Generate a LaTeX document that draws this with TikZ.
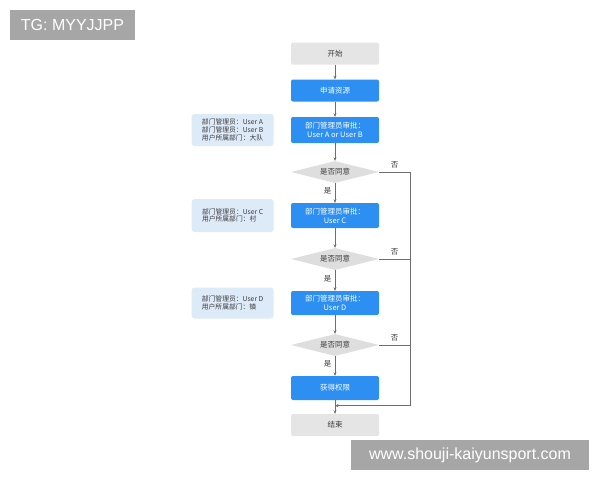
\documentclass[tikz,border=0pt]{standalone}
\usepackage{fontspec}
\setmainfont{Noto Sans CJK SC}
\newfontfamily\markfont{Liberation Sans}
\usetikzlibrary{positioning,shapes.geometric,arrows.meta}
\definecolor{flowblue}{RGB}{45,143,242}
\definecolor{infoblue}{RGB}{221,234,248}
\definecolor{boxgray}{RGB}{229,229,229}
\definecolor{diagray}{RGB}{222,222,222}
\definecolor{textgray}{RGB}{60,60,60}
\definecolor{linegray}{RGB}{110,110,110}
\definecolor{markgray}{RGB}{166,166,166}
\tikzset{
->,
>={Stealth[length=3.5pt,width=3pt]},
line width=0.6pt,
every node/.style={font=\fontsize{7.5}{9}\selectfont, text=textgray},
task/.style={rectangle, rounded corners=2pt, fill=flowblue, text=white, minimum width=88pt, minimum height=22pt, align=center},
terminal/.style={task, fill=boxgray, text=textgray},
decision/.style={diamond, aspect=4, fill=diagray, minimum width=88pt, minimum height=22pt, inner sep=1pt},
info/.style={rectangle, rounded corners=3pt, fill=infoblue, minimum width=82pt, minimum height=32pt, align=left, font=\fontsize{6.8}{7.6}\selectfont},
watermark/.style={rectangle, fill=markgray, text=white, inner sep=0pt, minimum height=30pt, font=\markfont\fontsize{16}{18}\selectfont},
}

\begin{document}
\begin{tikzpicture}[x=1pt, y=1pt, node distance=43pt, color=linegray]
        \useasboundingbox (0,0) rectangle (600,-480);
        \node[terminal] (start) at (335,-53.5) {开始};
        \node[task, below of=start, node distance=37pt] (apply) {申请资源};
        \node[task, below of=apply, node distance=39.5pt, minimum height=26pt] (approveAB) {部门管理员审批：\\User A or User B};
        \node[decision, below of=approveAB, node distance=42pt] (check1) {是否同意};
        \node[task, below of=check1, node distance=43.5pt, minimum height=25pt] (approveC) {部门管理员审批：\\User C};
        \node[decision, below of=approveC, node distance=43.5pt] (check2) {是否同意};
        \node[task, below of=check2, node distance=44pt, minimum height=24pt] (approveD) {部门管理员审批：\\User D};
        \node[decision, below of=approveD, node distance=42pt] (check3) {是否同意};
        \node[task, below of=check3, node distance=43pt, minimum height=24pt] (grant) {获得权限};
        \node[terminal, below of=grant, node distance=37pt] (finish) {结束};

        \node[info, left=17pt of approveAB] (infoAB) {部门管理员：User A\\部门管理员：User B\\用户所属部门：大队};
        \node[info, left=17pt of approveC, minimum height=33pt] (infoC) {部门管理员：User C\\用户所属部门：村};
        \node[info, left=17pt of approveD, minimum height=31pt] (infoD) {部门管理员：User D\\用户所属部门：镇};

        \coordinate[right=31pt of check1.east] (rail);
        \path (grant.south) -- coordinate[pos=0.4] (join) (finish.north);

        \draw (start) -- (apply);
        \draw (apply) -- (approveAB);
        \draw (approveAB) -- (check1);
        \draw (check1) -- node[left, pos=0.4]{是} (approveC);
        \draw (approveC) -- (check2);
        \draw (check2) -- node[left, pos=0.4]{是} (approveD);
        \draw (approveD) -- (check3);
        \draw (check3) -- node[left, pos=0.4]{是} (grant);
        \draw (grant) -- (finish);
        \draw[-] (check1.east) -- node[above]{否} (rail) -- (rail |- join);
        \draw[-] (check2.east) -- node[above]{否} (check2.east -| rail);
        \draw[-] (check3.east) -- node[above]{否} (check3.east -| rail);
        \draw (rail |- join) -- (join);

        \node[watermark, minimum width=125pt] (tg) at (72.5,-25) {TG: MYYJJPP};
        \node[watermark, minimum width=238pt] (site) at (470,-455) {www.shouji-kaiyunsport.com};
    \end{tikzpicture}
\end{document}
